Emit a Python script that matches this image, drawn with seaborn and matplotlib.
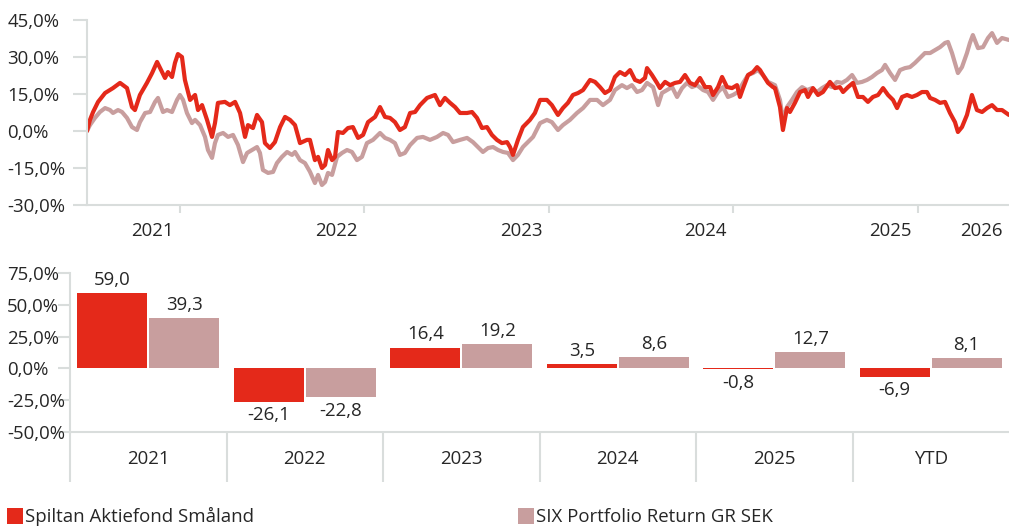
import numpy as np
import pandas as pd
import matplotlib.pyplot as plt
import seaborn as sns
from matplotlib.patches import Patch

# cumulative return, fund (decimal year, %)
fund_t = [2021.496, 2021.512, 2021.529, 2021.556, 2021.594, 2021.637, 2021.675, 2021.713, 2021.740, 2021.756,
          2021.783, 2021.821, 2021.849, 2021.876, 2021.903, 2021.919, 2021.935, 2021.957, 2021.973, 2021.989,
          2022.011, 2022.027, 2022.055, 2022.082, 2022.098, 2022.120, 2022.147, 2022.174, 2022.190, 2022.206,
          2022.244, 2022.271, 2022.299, 2022.326, 2022.353, 2022.369, 2022.396, 2022.418, 2022.445, 2022.461,
          2022.488, 2022.515, 2022.543, 2022.570, 2022.597, 2022.624, 2022.651, 2022.689, 2022.705, 2022.732,
          2022.749, 2022.770, 2022.787, 2022.803, 2022.825, 2022.841, 2022.857, 2022.884, 2022.911, 2022.938,
          2022.966, 2022.993, 2023.020, 2023.058, 2023.085, 2023.112, 2023.139, 2023.166, 2023.193, 2023.220,
          2023.248, 2023.275, 2023.302, 2023.340, 2023.383, 2023.410, 2023.437, 2023.465, 2023.492, 2023.519,
          2023.557, 2023.584, 2023.611, 2023.638, 2023.665, 2023.692, 2023.719, 2023.746, 2023.774, 2023.790,
          2023.806, 2023.833, 2023.860, 2023.898, 2023.925, 2023.953, 2023.990, 2024.017, 2024.050, 2024.077,
          2024.104, 2024.131, 2024.159, 2024.186, 2024.224, 2024.251, 2024.278, 2024.305, 2024.332, 2024.359,
          2024.386, 2024.414, 2024.441, 2024.468, 2024.495, 2024.522, 2024.533, 2024.560, 2024.587, 2024.603,
          2024.631, 2024.658, 2024.685, 2024.712, 2024.739, 2024.766, 2024.793, 2024.820, 2024.848, 2024.875,
          2024.891, 2024.918, 2024.940, 2024.967, 2024.994, 2025.021, 2025.037, 2025.054, 2025.081, 2025.108,
          2025.130, 2025.146, 2025.162, 2025.189, 2025.216, 2025.227, 2025.254, 2025.270, 2025.292, 2025.308,
          2025.335, 2025.363, 2025.390, 2025.406, 2025.433, 2025.460, 2025.487, 2025.525, 2025.552, 2025.579,
          2025.596, 2025.623, 2025.650, 2025.677, 2025.704, 2025.731, 2025.758, 2025.786, 2025.813, 2025.840,
          2025.867, 2025.889, 2025.916, 2025.943, 2025.970, 2025.997, 2026.024, 2026.051, 2026.068, 2026.095,
          2026.122, 2026.149, 2026.176, 2026.203, 2026.219, 2026.241, 2026.268, 2026.295, 2026.322, 2026.350,
          2026.377, 2026.404, 2026.431, 2026.458, 2026.496]
fund_v = [0.0, 4.5, 7.7, 11.8, 15.4, 17.4, 19.5, 17.4, 9.7, 8.5,
          14.6, 19.5, 23.5, 28.0, 23.9, 21.5, 23.9, 21.9, 27.6, 31.2,
          30.0, 20.7, 12.6, 14.6, 8.5, 10.5, 4.5, -2.4, 3.2, 11.4,
          11.8, 10.5, 11.8, 7.3, -2.4, 2.4, 1.2, 6.5, 3.6, -4.9,
          -6.9, -4.5, 1.6, 5.7, 4.5, 2.4, -4.9, -3.6, -3.6, -11.8,
          -10.5, -15.0, -13.8, -7.7, -11.8, -10.5, -0.4, -0.8, 1.2, 1.6,
          -2.8, -1.6, 3.6, 5.7, 9.7, 5.7, 5.3, 3.6, 0.4, 1.6,
          7.3, 7.7, 10.5, 13.4, 14.6, 10.5, 13.4, 11.4, 9.7, 7.3,
          7.3, 7.7, 5.3, 1.2, 1.6, -1.6, -3.6, -4.9, -4.5, -6.5,
          -9.7, -3.6, 1.6, 4.5, 7.3, 12.6, 12.6, 10.5, 6.5, 9.3,
          11.4, 14.6, 15.4, 16.6, 20.7, 19.9, 17.8, 15.4, 16.6, 21.9,
          23.9, 22.7, 24.7, 20.7, 19.9, 21.5, 25.5, 22.7, 19.5, 17.4,
          19.9, 18.6, 19.5, 19.9, 22.7, 19.5, 18.6, 21.5, 17.8, 17.8,
          14.6, 17.8, 21.9, 17.8, 17.4, 18.6, 13.8, 17.4, 22.7, 23.9,
          25.9, 24.7, 22.7, 19.5, 17.8, 17.4, 9.7, 0.4, 9.3, 7.7,
          11.4, 15.8, 16.6, 13.8, 17.4, 14.6, 15.8, 19.9, 17.4, 17.8,
          15.8, 17.8, 19.5, 13.8, 13.8, 11.8, 13.8, 14.6, 17.4, 14.6,
          12.6, 9.3, 13.8, 14.6, 13.8, 14.6, 15.8, 15.8, 13.4, 12.6,
          11.4, 11.8, 7.3, 3.6, -0.4, 1.6, 6.5, 14.6, 8.5, 7.7,
          9.3, 10.5, 8.5, 8.5, 6.5]

# cumulative return, index (decimal year, %)
index_t = [2021.496, 2021.512, 2021.539, 2021.566, 2021.594, 2021.621, 2021.637, 2021.664, 2021.686, 2021.713,
           2021.740, 2021.767, 2021.783, 2021.811, 2021.838, 2021.865, 2021.881, 2021.908, 2021.930, 2021.957,
           2021.984, 2022.000, 2022.017, 2022.038, 2022.065, 2022.082, 2022.109, 2022.136, 2022.152, 2022.174,
           2022.190, 2022.206, 2022.234, 2022.261, 2022.288, 2022.315, 2022.342, 2022.364, 2022.391, 2022.418,
           2022.434, 2022.450, 2022.478, 2022.505, 2022.526, 2022.553, 2022.581, 2022.608, 2022.624, 2022.651,
           2022.678, 2022.705, 2022.732, 2022.749, 2022.770, 2022.787, 2022.803, 2022.825, 2022.852, 2022.879,
           2022.906, 2022.933, 2022.960, 2022.987, 2023.014, 2023.047, 2023.085, 2023.112, 2023.139, 2023.166,
           2023.193, 2023.220, 2023.248, 2023.286, 2023.318, 2023.356, 2023.394, 2023.427, 2023.454, 2023.481,
           2023.519, 2023.557, 2023.589, 2023.616, 2023.643, 2023.671, 2023.698, 2023.725, 2023.752, 2023.779,
           2023.806, 2023.833, 2023.860, 2023.887, 2023.915, 2023.953, 2023.990, 2024.017, 2024.050, 2024.077,
           2024.115, 2024.153, 2024.186, 2024.224, 2024.262, 2024.294, 2024.332, 2024.359, 2024.397, 2024.424,
           2024.451, 2024.479, 2024.506, 2024.533, 2024.566, 2024.593, 2024.614, 2024.641, 2024.669, 2024.696,
           2024.723, 2024.750, 2024.777, 2024.804, 2024.837, 2024.864, 2024.891, 2024.918, 2024.945, 2024.972,
           2024.999, 2025.026, 2025.054, 2025.081, 2025.108, 2025.135, 2025.162, 2025.189, 2025.227, 2025.254,
           2025.270, 2025.292, 2025.319, 2025.346, 2025.374, 2025.401, 2025.428, 2025.455, 2025.482, 2025.509,
           2025.536, 2025.563, 2025.590, 2025.617, 2025.645, 2025.672, 2025.699, 2025.726, 2025.753, 2025.780,
           2025.807, 2025.824, 2025.851, 2025.878, 2025.905, 2025.932, 2025.959, 2025.986, 2026.013, 2026.040,
           2026.068, 2026.095, 2026.122, 2026.149, 2026.165, 2026.187, 2026.203, 2026.219, 2026.241, 2026.268,
           2026.284, 2026.300, 2026.328, 2026.355, 2026.382, 2026.404, 2026.431, 2026.458, 2026.496]
index_v = [0.0, 2.4, 5.3, 7.7, 9.3, 8.5, 7.3, 8.5, 7.7, 5.3,
           1.6, 0.4, 3.6, 7.3, 7.7, 11.8, 13.4, 7.7, 8.5, 7.7,
           12.6, 14.6, 12.6, 7.3, 3.2, 4.5, 2.4, -2.4, -7.7, -10.9,
           -4.9, -1.6, -0.8, -2.4, -1.6, -5.7, -12.6, -8.9, -7.7, -6.5,
           -8.9, -15.8, -17.0, -16.6, -13.0, -10.5, -8.5, -9.7, -8.5, -11.8,
           -13.0, -16.5, -21.1, -17.8, -21.9, -20.7, -17.0, -17.8, -10.5, -8.9,
           -7.7, -8.5, -11.8, -10.5, -4.9, -3.6, -0.8, -2.8, -3.6, -4.9,
           -9.7, -8.9, -5.7, -2.8, -2.4, -3.6, -2.4, -0.8, -1.6, -4.5,
           -3.6, -2.8, -4.5, -6.5, -8.5, -6.9, -6.5, -7.7, -8.5, -8.9,
           -11.8, -9.7, -6.5, -4.5, -2.4, 3.2, 4.5, 3.6, 0.4, 2.4,
           4.5, 7.3, 9.3, 12.6, 12.6, 10.5, 12.6, 16.6, 18.6, 17.4,
           18.6, 15.8, 16.6, 19.5, 17.8, 10.5, 15.4, 16.6, 17.8, 13.8,
           17.4, 19.5, 17.8, 18.6, 16.6, 15.8, 12.6, 15.8, 17.8, 13.8,
           14.6, 15.8, 19.5, 22.7, 23.5, 24.7, 22.7, 19.9, 18.6, 12.6,
           4.5, 9.7, 12.6, 15.8, 17.8, 16.6, 17.4, 15.8, 17.4, 18.6,
           17.8, 19.9, 19.5, 20.7, 22.7, 19.5, 19.9, 20.7, 21.9, 23.5,
           24.7, 26.8, 23.5, 20.7, 24.7, 25.5, 25.9, 27.6, 29.6, 31.6,
           31.6, 32.8, 34.0, 35.7, 36.1, 31.6, 27.6, 23.5, 25.9, 31.6,
           35.7, 38.9, 33.6, 34.0, 37.7, 39.7, 35.7, 37.7, 36.9]

# yearly returns (%)
periods = ['2021', '2022', '2023', '2024', '2025', 'YTD']
fund_yearly = [59.0, -26.1, 16.4, 3.5, -0.8, -6.9]
index_yearly = [39.3, -22.8, 19.2, 8.6, 12.7, 8.1]

fund_name = 'Spiltan Aktiefond Småland'
index_name = 'SIX Portfolio Return GR SEK'
year_ticks = [2022, 2023, 2024, 2025, 2026]
year_labels = ['2021', '2022', '2023', '2024', '2025']

red = '#e4291a'
pink = '#c89e9e'
grid_col = '#d9dddc'
txt = '#262626'

sns.set_style('white')
plt.rcParams['font.family'] = ['Open Sans', 'DejaVu Sans']
plt.rcParams['text.color'] = txt
plt.rcParams['xtick.color'] = grid_col
plt.rcParams['ytick.color'] = grid_col
plt.rcParams['xtick.labelcolor'] = txt
plt.rcParams['ytick.labelcolor'] = txt
fs = 13.4

fig = plt.figure(figsize=(10.09, 5.28), dpi=100)
W, H = 1009, 528

# ---- line chart
ax1 = fig.add_axes([87 / W, 1 - 205 / H, 922 / W, 185 / H])
sns.lineplot(x=index_t, y=index_v, color=pink, lw=3, estimator=None, ax=ax1)
sns.lineplot(x=fund_t, y=fund_v, color=red, lw=3, estimator=None, ax=ax1)
ax1.set_xlim(fund_t[0], fund_t[-1])
ax1.set_ylim(-30, 45)
yt = np.arange(-30, 46, 15)
ax1.set_yticks(yt, labels=[f'{v:.1f}%'.replace('.', ',') for v in yt])
ax1.tick_params(axis='y', length=10, width=1.5, pad=47.5, labelsize=fs, left=True)
for lbl in ax1.get_yticklabels():
    lbl.set_ha('left')
ax1.set_xticks(year_ticks, labels=[])
ax1.tick_params(axis='x', length=6, width=1.5, bottom=True)
for x, lab in zip(year_ticks + [fund_t[-1]], year_labels + ['2026']):
    ax1.annotate(lab, xy=(x, 0), xycoords=('data', 'axes fraction'), xytext=(-4.5, -12),
                 textcoords='offset points', ha='right', va='top', fontsize=fs)
sns.despine(ax=ax1)
for s in ['left', 'bottom']:
    ax1.spines[s].set_color(grid_col)
    ax1.spines[s].set_linewidth(1.5)
ax1.set_xlabel('')
ax1.set_ylabel('')

# ---- bar chart
ax2 = fig.add_axes([70 / W, 1 - 432 / H, 939 / W, 159 / H])
df = pd.DataFrame({
    'period': periods * 2,
    'value': fund_yearly + index_yearly,
    'series': [fund_name] * len(periods) + [index_name] * len(periods),
})
sns.barplot(data=df, x='period', y='value', hue='series', palette=[red, pink], saturation=1,
            width=0.92, gap=0.03, linewidth=0, errorbar=None, legend=False, ax=ax2)
for cont, vals in zip(ax2.containers, [fund_yearly, index_yearly]):
    ax2.bar_label(cont, labels=[f'{v:.1f}'.replace('.', ',') for v in vals], padding=3, fontsize=fs, color=txt)
ax2.set_xlim(-0.5, 5.5)
ax2.set_ylim(-50, 75)
yt2 = np.arange(-50, 76, 25)
ax2.set_yticks(yt2, labels=[f'{v:.1f}%'.replace('.', ',') for v in yt2])
ax2.tick_params(axis='y', length=9, width=1.5, pad=36.4, labelsize=fs, left=True)
for lbl in ax2.get_yticklabels():
    lbl.set_ha('left')
ax2.set_xticks(np.arange(-0.5, 5.0, 1.0), labels=[])
ax2.set_xticks(range(len(periods)), labels=periods, minor=True)
ax2.tick_params(axis='x', which='major', length=36, width=1.5, bottom=True)
ax2.tick_params(axis='x', which='minor', length=0, pad=13, labelsize=fs)
sns.despine(ax=ax2)
for s in ['left', 'bottom']:
    ax2.spines[s].set_color(grid_col)
    ax2.spines[s].set_linewidth(1.5)
ax2.set_xlabel('')
ax2.set_ylabel('')

# ---- legend
for name, col, x0 in [(fund_name, red, -0.008), (index_name, pink, 503 / W)]:
    fig.legend(handles=[Patch(facecolor=col, edgecolor='none', label=name)], loc='lower left',
               bbox_to_anchor=(x0, -0.025), frameon=False, fontsize=fs,
               handlelength=0.85, handleheight=0.95, handletextpad=0.15, borderpad=0.3)

fig.savefig('out.png', dpi=100)
